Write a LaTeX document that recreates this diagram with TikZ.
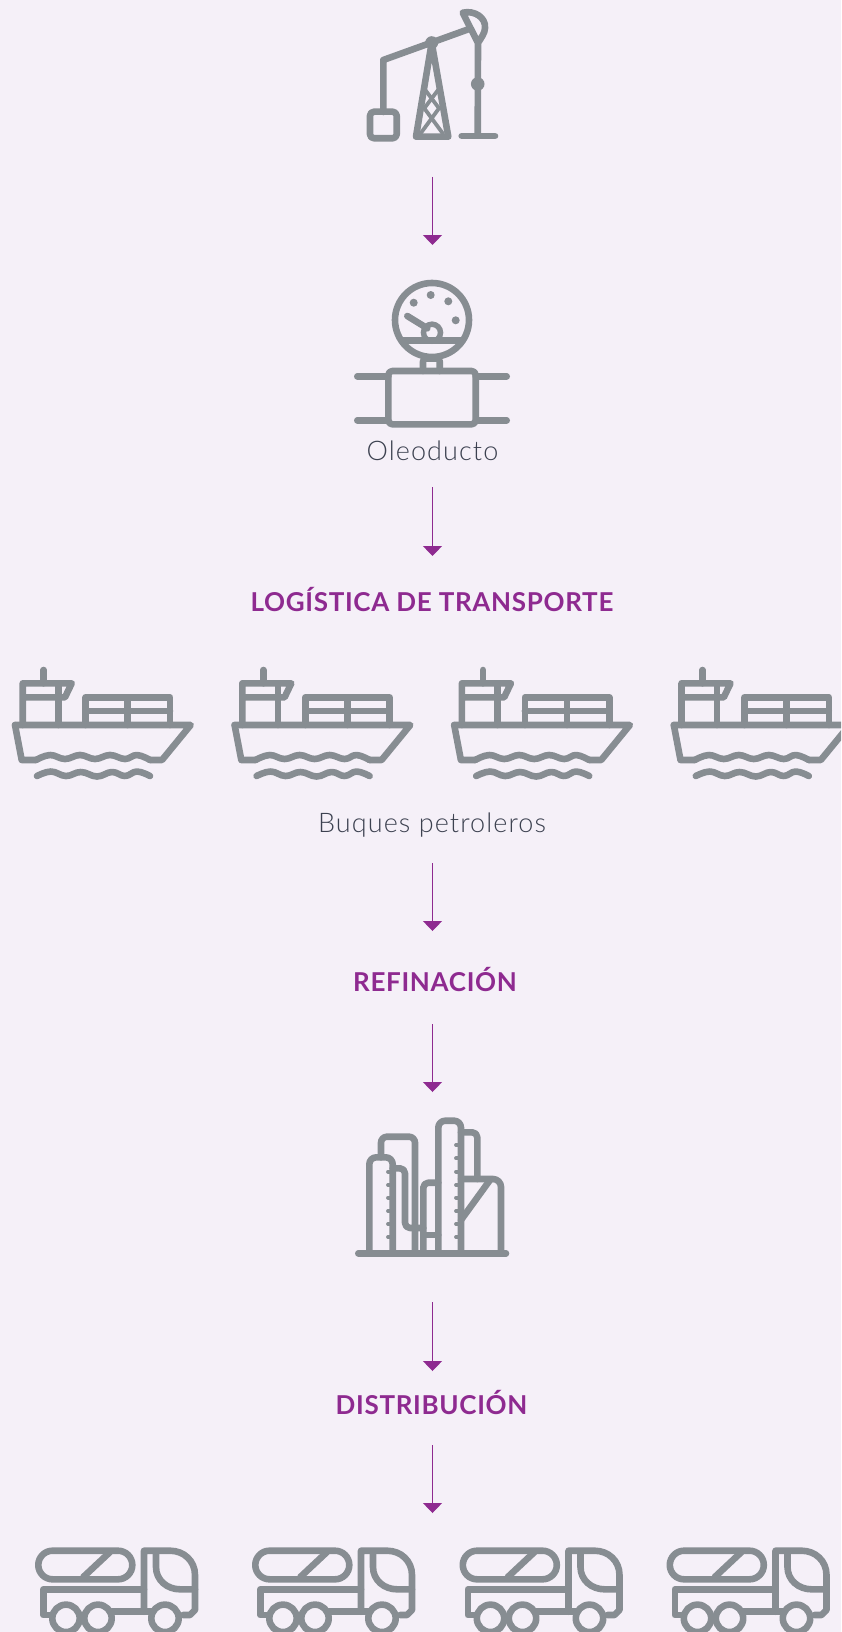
\documentclass[tikz,border=0pt]{standalone}
\usepackage{fontspec}
\setmainfont{Lato}
\newfontfamily\thinfont[LetterSpace=4]{Lato Light}
\newfontfamily\headfont[LetterSpace=2.6]{Lato Bold}
\usetikzlibrary{arrows.meta}
\definecolor{paper}{HTML}{F5F0F8}
\definecolor{steel}{HTML}{878D92}
\definecolor{plum}{HTML}{8E2A90}
\definecolor{slate}{HTML}{3C4150}
\tikzset{
	icon/.style={draw=steel, line width=6.6pt, line cap=round, line join=round},
	thinicon/.style={draw=steel, line width=3.8pt, line cap=round},
	dot/.style={fill=steel, draw=none},
	flow/.style={draw=plum, line width=1.2pt, -{Triangle[width=19pt,length=10pt,color=plum]}},
	heading/.style={text=plum, font=\fontsize{26}{30}\headfont, inner sep=0pt, anchor=base},
	caption/.style={text=slate, font=\fontsize{27}{30}\thinfont, inner sep=0pt, anchor=base}
}
\def\shipicon(#1){
	\begin{scope}[shift={(#1,0)}]
		\draw[icon] (43.7,670) -- (43.7,683.3);
		\draw[icon] (22.7,725) -- (22.7,683.3) -- (71.7,683.3) -- (65,697.3) -- (22.7,697.3);
		\draw[icon] (58.3,683.3) -- (58.3,725);
		\draw[icon] (85.7,725) -- (85.7,697.3) -- (170,697.3) -- (170,725);
		\draw[icon] (85.7,711) -- (170,711);
		\draw[icon] (127.7,697.3) -- (127.7,725);
		\draw[icon] (15,725) -- (190.7,725) -- (162,760) -- (150,760);
		\draw[icon] (15,725) -- (21.7,760) -- (36,760);
		\draw[icon] plot[smooth,tension=0.7] coordinates {(36,760) (50,755) (65,759) (80,755) (95,759) (110,755) (125,759) (137,755) (150,760)};
		\draw[icon] plot[smooth,tension=0.7] coordinates {(37,776) (51,771.5) (66,776) (81,772) (97,776.5) (112,772) (125,776) (137,771.5) (150,776)};
	\end{scope}
}
\def\truckicon(#1){
	\begin{scope}[shift={(#1,0)}]
		\draw[icon, rounded corners=14.3pt] (38.3,1550.7) rectangle (132.3,1579.3);
		\draw[icon] (83.3,1577) -- (110,1552);
		\draw[icon] (50,1615) -- (43.3,1615) -- (43.3,1589.3) -- (144,1589.3);
		\draw[icon] (66,1618.3) circle (13.7);
		\draw[icon] (98,1618.3) circle (13.7);
		\draw[icon] (165,1618.3) circle (13.7);
		\draw[icon] (112,1611.7) -- (152,1611.7);
		\draw[icon] (144,1611.7) -- (144,1550.7) -- (170,1550.7) .. controls (184,1550.7) and (195,1561) .. (195,1575) -- (195,1610) -- (190,1615) -- (183,1615);
		\draw[icon] (156,1552) -- (156,1567) .. controls (156,1580) and (167,1589.3) .. (180,1589.3) -- (195,1589.3);
	\end{scope}
}
\begin{document}
\begin{tikzpicture}[x=1pt, y=-1pt]
	%%%%% BACKGROUND %%%%%
	\useasboundingbox (0,0) rectangle (841,1632);
	\clip (0,0) rectangle (841,1632);
	\fill[paper] (0,0) rectangle (841,1632);

	%%%%% PUMP JACK %%%%%
	\draw[icon] (383.3,112) -- (383.3,60) -- (468.3,29.3);
	\draw[icon, rounded corners=4pt] (370,111.7) rectangle (396.7,138.3);
	\draw[icon] (431.7,42.7) -- (416,136.7) -- (448.3,136.7) -- cycle;
	\draw[thinicon] (425.3,90) -- (439,108.3) -- (420.7,133.3);
	\draw[thinicon] (438,90) -- (424.3,108.3) -- (442.7,133.3);
	\fill[dot] (431.7,42.7) circle (6.5);
	\draw[icon] (478,43) -- (462.7,12.7) .. controls (475,10) and (486,18) .. (485,28) .. controls (485,33) and (481,38) .. (478,43) -- (477.7,135);
	\fill[dot] (477.7,84) circle (6.8);
	\draw[icon] (461.7,136) -- (495,136);

	%%%%% GAUGE AND PIPE %%%%%
	\draw[icon] (432,320) circle (37);
	\fill[dot] (413.7,302.7) circle (4);
	\fill[dot] (430.7,295) circle (4);
	\fill[dot] (448.3,301.3) circle (4);
	\fill[dot] (455.7,320.3) circle (4);
	\draw[icon] (407.3,316) -- (427.3,328.3);
	\draw[draw=steel, line width=5.5pt] (432,332.7) circle (8.5);
	\draw[icon] (402,340.7) -- (461,340.7);
	\draw[icon, rounded corners=3pt] (423,371) -- (423,358.5) -- (439.7,358.5) -- (439.7,371);
	\draw[icon, rounded corners=4pt] (388.3,371) rectangle (475.7,424.3);
	\draw[icon] (357.3,376.3) -- (388.3,376.3);
	\draw[icon] (357.3,420.3) -- (388.3,420.3);
	\draw[icon] (475.7,376.3) -- (506.7,376.3);
	\draw[icon] (475.7,420.3) -- (506.7,420.3);
	\node[caption] (oleoducto) at (432.5,460) {Oleoducto};

	%%%%% SHIPS %%%%%
	\node[heading] (logistica) at (432,611.7) {LOGÍSTICA DE TRANSPORTE};
	\shipicon(0)
	\shipicon(219.6)
	\shipicon(439.2)
	\shipicon(658.8)
	\node[caption] (buques) at (432,832) {Buques petroleros};

	%%%%% REFINERY %%%%%
	\node[heading] (refinacion) at (435,991.5) {REFINACIÓN};
	\draw[icon] (358.3,1253.3) -- (506,1253.3);
	\draw[icon, rounded corners=7pt] (369.3,1253.3) -- (369.3,1157.3) -- (392.7,1157.3) -- (392.7,1253.3);
	\draw[icon, rounded corners=6pt] (381,1157.3) -- (381,1136.7) -- (415,1136.7) -- (415,1253.3);
	\draw[icon, rounded corners=5pt] (392.7,1168.3) -- (405,1168.3) -- (405,1228) -- (423.3,1228);
	\draw[icon, rounded corners=5pt] (423.3,1253.3) -- (423.3,1182.7) -- (438.3,1182.7);
	\draw[icon] (423.3,1235) -- (438.3,1235);
	\draw[icon, rounded corners=7pt] (438.3,1253.3) -- (438.3,1120.7) -- (461,1120.7) -- (461,1253.3);
	\draw[icon, rounded corners=5pt] (461,1132.3) -- (477.3,1132.3) -- (477.3,1179);
	\draw[icon, rounded corners=8pt] (461,1179) -- (501,1179) -- (501,1253.3);
	\draw[icon] (490,1180) -- (461,1220);
	\foreach \ty in {1171.7,1185,1197.7,1211,1224,1237}
		\draw[thinicon] (388,\ty) -- (392.7,\ty);
	\foreach \ty in {1145,1158.3,1171.7,1185,1197.7,1211,1224,1237}
		\draw[thinicon] (456,\ty) -- (461,\ty);

	%%%%% TRUCKS %%%%%
	\node[heading] (distribucion) at (431.5,1414) {DISTRIBUCIÓN};
	\truckicon(0)
	\truckicon(217)
	\truckicon(424.5)
	\truckicon(631.5)

	%%%%% ARROWS %%%%%
	\coordinate (a1) at (432.5,177);
	\coordinate (b1) at (432.5,245);
	\coordinate (a2) at (432.5,487);
	\coordinate (b2) at (432.5,556);
	\coordinate (a3) at (432.5,863);
	\coordinate (b3) at (432.5,931);
	\coordinate (a4) at (432.5,1024);
	\coordinate (b4) at (432.5,1092);
	\coordinate (a5) at (432.5,1302);
	\coordinate (b5) at (432.5,1371);
	\coordinate (a6) at (432.5,1445);
	\coordinate (b6) at (432.5,1513);
	\foreach \n in {1,...,6}
		\draw[flow] (a\n) -- (b\n);
\end{tikzpicture}
\end{document}
